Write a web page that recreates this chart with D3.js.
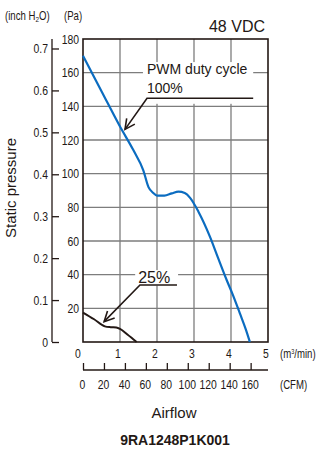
<!DOCTYPE html>
<html>
<head>
<meta charset="utf-8">
<script src="https://cdn.jsdelivr.net/npm/d3@7"></script>
<style>
  body { margin: 0; background: #fff; }
  text { font-family: "Liberation Sans", Arial, sans-serif; fill: #231815; }
</style>
</head>
<body>
<div id="chart"></div>
<script>
// airflow in m3/min, static pressure in Pa
var flow100 = [0, 0.5, 1.0, 1.36, 1.63, 1.77, 1.9, 2.0, 2.2, 2.4, 2.58, 2.75, 2.9, 3.12, 3.43, 3.65, 3.88, 4.05, 4.24, 4.4, 4.51];
var pres100 = [170, 149, 128, 114, 102, 92, 88.5, 87, 87, 88.3, 89.3, 88.5, 85.5, 77.4, 62.6, 50, 37, 28, 17, 7.5, 0];

var flow25 = [0, 0.3, 0.59, 0.75, 0.9, 1.0, 1.2, 1.45];
var pres25 = [17.5, 13.5, 9.3, 8.8, 8.6, 7.8, 4.5, 0];

var paTicks = [20, 40, 60, 80, 100, 120, 140, 160, 180];
var inchTicks = [0, 0.1, 0.2, 0.3, 0.4, 0.5, 0.6, 0.7];
var m3Ticks = [0, 1, 2, 3, 4, 5];
var cfmTicks = [0, 20, 40, 60, 80, 100, 120, 140, 160];

var w = 318, h = 453;
var pLeft = 83, pRight = 268, pTop = 39, pBottom = 342;

var svg = d3.select("#chart").append("svg")
    .attr("width", w)
    .attr("height", h);

// the chart uses a condensed face for numbers, fake it with a horizontal squeeze
function squeeze(sel) {
    sel.each(function() {
        var t = d3.select(this);
        var tx = +t.attr("x") || 0, ty = +t.attr("y") || 0;
        t.attr("x", 0).attr("y", 0)
            .attr("transform", "translate(" + tx + "," + ty + ") scale(0.8,1)");
    });
}

var x = d3.scaleLinear().domain([0, 5]).range([pLeft, pRight]);
var y = d3.scaleLinear().domain([0, 180]).range([pBottom, pTop]);
// 1 inch H2O = 249.089 Pa, 1 m3/min = 35.3147 CFM
var yInch = d3.scaleLinear().domain([0, 180 / 249.089]).range([pBottom, pTop]);
var xCfm = d3.scaleLinear().domain([0, 5 * 35.3147]).range([pLeft, pRight]);

// grid
svg.append("g").selectAll("line")
    .data([1, 2, 3, 4])
    .enter().append("line")
    .attr("x1", d => x(d)).attr("x2", d => x(d))
    .attr("y1", pTop).attr("y2", pBottom)
    .attr("stroke", "#7d7d7d").attr("stroke-width", 1.3);

svg.append("g").selectAll("line")
    .data(paTicks.slice(0, -1))
    .enter().append("line")
    .attr("x1", pLeft).attr("x2", pRight)
    .attr("y1", d => y(d)).attr("y2", d => y(d))
    .attr("stroke", "#7d7d7d").attr("stroke-width", 1.3);

// frame
svg.append("rect")
    .attr("x", pLeft).attr("y", pTop)
    .attr("width", pRight - pLeft).attr("height", pBottom - pTop)
    .attr("fill", "none").attr("stroke", "#231815").attr("stroke-width", 1.6);

// Pa axis labels
var paAxis = svg.append("g")
    .attr("transform", "translate(" + (pLeft - 4) + ",0)")
    .call(d3.axisLeft(y).tickValues(paTicks).tickSize(0).tickPadding(0));
paAxis.select(".domain").remove();
paAxis.attr("font-family", null).attr("font-size", 13);
paAxis.selectAll("text").attr("fill", "#231815").call(squeeze);

// inch H2O axis
var inAxis = svg.append("g")
    .attr("transform", "translate(52,0)")
    .call(d3.axisRight(yInch).tickValues(inchTicks).tickSize(7)
        .tickFormat(d => d === 0 ? "0" : d3.format(".1f")(d)));
inAxis.attr("font-family", null).attr("font-size", 13);
inAxis.select(".domain").attr("d", "M0," + pTop + "V" + pBottom).attr("stroke", "#231815").attr("stroke-width", 1.3);
inAxis.selectAll(".tick line").attr("stroke", "#231815").attr("stroke-width", 1.3);
inAxis.selectAll("text")
    .attr("x", -4).attr("text-anchor", "end")
    .attr("fill", "#231815")
    .call(squeeze);

// m3/min labels
svg.append("g").selectAll("text")
    .data(m3Ticks)
    .enter().append("text")
    .attr("x", d => x(d) - (d === 0 ? 5 : 2))
    .attr("y", 358)
    .attr("text-anchor", "middle")
    .attr("font-size", 13)
    .text(d => d)
    .call(squeeze);

svg.append("text")
    .attr("x", 280).attr("y", 358)
    .attr("font-size", 12)
    .html("(m<tspan font-size='7' dy='-4'>3</tspan><tspan dy='4'>/min)</tspan>")
    .call(squeeze);

// CFM axis
var cfmAxis = svg.append("g")
    .attr("transform", "translate(0,370)")
    .call(d3.axisTop(xCfm).tickValues(cfmTicks).tickSize(7).tickSizeOuter(0));
cfmAxis.attr("font-family", null).attr("font-size", 13);
cfmAxis.select(".domain").attr("d", "M" + pLeft + ",0H" + pRight).attr("stroke", "#231815").attr("stroke-width", 1.3);
cfmAxis.selectAll(".tick line").attr("stroke", "#231815").attr("stroke-width", 1.3);
cfmAxis.selectAll("text")
    .attr("x", -1).attr("y", 19).attr("dy", 0)
    .attr("fill", "#231815")
    .call(squeeze);

svg.append("text")
    .attr("x", 280).attr("y", 389)
    .attr("font-size", 12)
    .text("(CFM)")
    .call(squeeze);

// unit headers
svg.append("text")
    .attr("x", 5).attr("y", 20)
    .attr("font-size", 12)
    .html("(inch H<tspan font-size='8' dy='2'>2</tspan><tspan dy='-2'>O)</tspan>")
    .call(squeeze);
svg.append("text")
    .attr("x", 64).attr("y", 20)
    .attr("font-size", 12)
    .text("(Pa)")
    .call(squeeze);

// titles
svg.append("text")
    .attr("x", 265).attr("y", 32)
    .attr("text-anchor", "end")
    .attr("font-size", 16)
    .text("48 VDC");

svg.append("text")
    .attr("transform", "translate(16,188) rotate(-90)")
    .attr("text-anchor", "middle")
    .attr("font-size", 15)
    .text("Static pressure");

svg.append("text")
    .attr("x", 174).attr("y", 418)
    .attr("text-anchor", "middle")
    .attr("font-size", 15)
    .text("Airflow");

svg.append("text")
    .attr("x", 175).attr("y", 445)
    .attr("text-anchor", "middle")
    .attr("font-size", 14)
    .attr("font-weight", "bold")
    .text("9RA1248P1K001");

// arrow marker
svg.append("defs").append("marker")
    .attr("id", "arrow")
    .attr("markerUnits", "userSpaceOnUse")
    .attr("markerWidth", 14).attr("markerHeight", 14)
    .attr("viewBox", "-12 -7 14 14")
    .attr("refX", 0).attr("refY", 0)
    .attr("orient", "auto")
    .append("path")
    .attr("d", "M-10,-5L0,0L-10,5")
    .attr("fill", "none")
    .attr("stroke", "#231815")
    .attr("stroke-width", 1.6);

// annotation: PWM duty cycle 100%
svg.append("rect")
    .attr("x", x(1.62)).attr("y", y(166.3))
    .attr("width", x(4.6) - x(1.62)).attr("height", y(141.5) - y(166.3))
    .attr("fill", "#fff");

svg.append("text")
    .attr("x", x(1.73)).attr("y", 74)
    .attr("font-size", 14)
    .text("PWM duty cycle");
svg.append("text")
    .attr("x", x(1.73)).attr("y", 93)
    .attr("font-size", 14)
    .text("100%");

svg.append("path")
    .attr("d", d3.line()([[x(4.6), y(144.8)], [x(1.73), y(144.8)], [x(1.135), y(126.3)]]))
    .attr("fill", "none").attr("stroke", "#231815").attr("stroke-width", 1.6)
    .attr("marker-end", "url(#arrow)");

// annotation: 25%
svg.append("rect")
    .attr("x", x(1.41)).attr("y", y(42.7))
    .attr("width", x(2.57) - x(1.41)).attr("height", y(33.5) - y(42.7))
    .attr("fill", "#fff");

svg.append("text")
    .attr("x", x(1.49)).attr("y", 283)
    .attr("font-size", 16)
    .text("25%");

svg.append("path")
    .attr("d", d3.line()([[x(2.54), y(33.9)], [x(1.54), y(33.9)], [x(0.57), y(12.1)]]))
    .attr("fill", "none").attr("stroke", "#231815").attr("stroke-width", 1.6)
    .attr("marker-end", "url(#arrow)");

// curves
var line = d3.line()
    .x(d => x(d[0]))
    .y(d => y(d[1]))
    .curve(d3.curveMonotoneX);

svg.append("path")
    .datum(flow100.map((f, i) => [f, pres100[i]]))
    .attr("d", line)
    .attr("fill", "none")
    .attr("stroke", "#0b6cc0")
    .attr("stroke-width", 2.2);

svg.append("path")
    .datum(flow25.map((f, i) => [f, pres25[i]]))
    .attr("d", line)
    .attr("fill", "none")
    .attr("stroke", "#231815")
    .attr("stroke-width", 2);
</script>
</body>
</html>
